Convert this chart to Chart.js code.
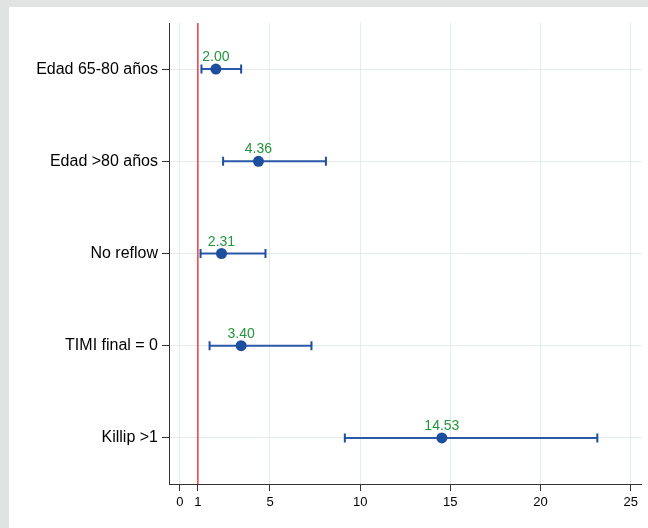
<!DOCTYPE html>
<html>
<head>
<meta charset="utf-8">
<script src="https://cdn.jsdelivr.net/npm/chart.js@4"></script>
<style>
  html, body { margin: 0; padding: 0; background: #e1e3e3; }
  #panel { position: absolute; left: 9px; top: 7px; width: 639px; height: 521px; background: #ffffff; }
</style>
</head>
<body>
<div id="panel"><canvas id="myChart"></canvas></div>
<script>
// Forest plot data
var categories = ["Edad 65-80 años", "Edad >80 años", "No reflow", "TIMI final = 0", "Killip >1"];
var estimates = [2.00, 4.36, 2.31, 3.40, 14.53];
var lowerCI = [1.2, 2.4, 1.15, 1.65, 9.15];
var upperCI = [3.4, 8.1, 4.75, 7.3, 23.15];
var xTicks = [0, 1, 5, 10, 15, 20, 25];
var refValue = 1;

var blue = "#1d4f9f";
var green = "#23953b";
var gridColor = "#e1ecec";
var axisColor = "#333333";

// points
var pointData = estimates.map(function (v, i) { return { x: v, y: i + 1 }; });

// caps at both ends of the intervals
var capData = [];
for (var i = 0; i < categories.length; i++) {
  capData.push({ x: lowerCI[i], y: i + 1 });
  capData.push({ x: upperCI[i], y: i + 1 });
}

var datasets = [
  {
    type: "scatter",
    data: pointData,
    backgroundColor: blue,
    borderColor: blue,
    pointRadius: 5.5,
    borderWidth: 0,
  },
  {
    type: "scatter",
    data: capData,
    pointStyle: "line",
    rotation: 90,
    pointRadius: 4.5,
    borderColor: blue,
    borderWidth: 2,
  },
];

// one short line per interval
for (var i = 0; i < categories.length; i++) {
  datasets.push({
    type: "line",
    data: [{ x: lowerCI[i], y: i + 1 }, { x: upperCI[i], y: i + 1 }],
    borderColor: "#2b59a8",
    borderWidth: 2,
    pointRadius: 0,
    fill: false,
  });
}

// reference line at 1
datasets.push({
  type: "line",
  data: [{ x: refValue, y: 0.5 }, { x: refValue, y: 5.5 }],
  borderColor: "#ee3b3f",
  borderWidth: 1.5,
  pointRadius: 0,
  fill: false,
});

// green value labels above the points
var valueLabels = {
  id: "valueLabels",
  afterDatasetsDraw: function (chart) {
    var ctx = chart.ctx;
    var xs = chart.scales.x;
    var ys = chart.scales.y;
    ctx.save();
    ctx.fillStyle = green;
    ctx.font = "14px 'Liberation Sans', Arial, sans-serif";
    ctx.textAlign = "center";
    ctx.textBaseline = "alphabetic";
    for (var i = 0; i < estimates.length; i++) {
      ctx.fillText(estimates[i].toFixed(2), xs.getPixelForValue(estimates[i]), ys.getPixelForValue(i + 1) - 8);
    }
    ctx.restore();
  },
};

var ctx = document.getElementById("myChart").getContext("2d");
var chart = new Chart(ctx, {
  type: "scatter",
  data: { datasets: datasets },
  plugins: [valueLabels],
  options: {
    responsive: true,
    maintainAspectRatio: false,
    animation: false,
    layout: { padding: { top: 16, right: 6, bottom: 0, left: 0 } },
    plugins: { legend: { display: false }, tooltip: { enabled: false } },
    scales: {
      x: {
        type: "linear",
        position: "bottom",
        min: -0.6,
        max: 25.6,
        afterBuildTicks: function (scale) {
          scale.ticks = xTicks.map(function (v) { return { value: v }; });
        },
        afterFit: function (scale) { scale.height = 44; },
        grid: {
          color: function (c) { return c.tick && c.tick.value === refValue ? "rgba(0,0,0,0)" : gridColor; },
          lineWidth: 1,
          tickColor: axisColor,
          tickLength: 7,
        },
        border: { color: axisColor, width: 1 },
        ticks: {
          color: "#000",
          font: { family: "'Liberation Sans', Arial, sans-serif", size: 13 },
          padding: 4,
          autoSkip: false,
          maxRotation: 0,
        },
      },
      y: {
        type: "linear",
        position: "left",
        reverse: true,
        min: 0.5,
        max: 5.5,
        afterBuildTicks: function (scale) {
          scale.ticks = categories.map(function (_, i) { return { value: i + 1 }; });
        },
        afterFit: function (scale) { scale.width = 160; },
        grid: {
          color: gridColor,
          lineWidth: 1,
          tickColor: axisColor,
          tickLength: 7,
        },
        border: { color: axisColor, width: 1 },
        ticks: {
          color: "#000",
          font: { family: "'Liberation Sans', Arial, sans-serif", size: 16 },
          padding: 4,
          callback: function (value) { return categories[value - 1]; },
        },
      },
    },
  },
});
</script>
</body>
</html>
